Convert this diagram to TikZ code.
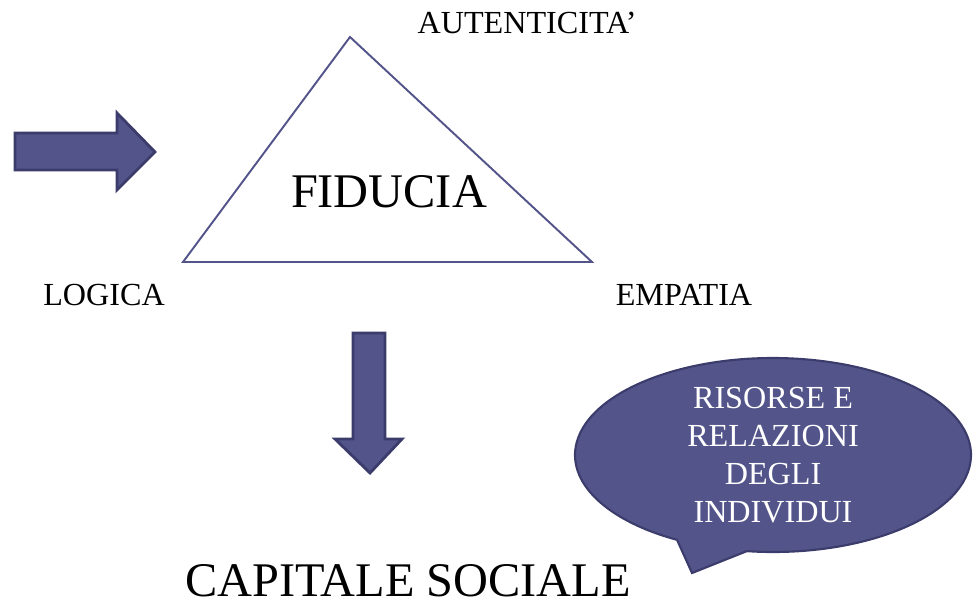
\documentclass[tikz,border=0pt]{standalone}
\usepackage{fontspec}
\setmainfont{Liberation Serif}
\usetikzlibrary{calc}
\definecolor{arrowfill}{HTML}{53548A}
\definecolor{arrowline}{HTML}{3B3C6B}
\tikzset{
  bigarrow/.style={fill=arrowfill, draw=arrowline, line width=1.6pt, line join=miter},
  corner/.style={font=\fontsize{18.3}{20}\selectfont},
  bigtext/.style={font=\fontsize{27.5}{32}\selectfont}
}
\begin{document}
\begin{tikzpicture}[x=0.02cm, y=-0.02cm]
        \useasboundingbox (0,0) rectangle (979,608);

        % Triangle of trust
        \coordinate (top) at (350,37);
        \coordinate (left) at (183,262);
        \coordinate (right) at (592,262);
        \draw[arrowfill, line width=1.1pt] (top) -- (left) -- (right) -- cycle;
        \node[bigtext, anchor=base] (fiducia) at (389,207) {FIDUCIA};

        % Corner labels
        \node[corner, anchor=base] (autenticita) at (527,34) {AUTENTICITA'};
        \node[corner, anchor=base] (logica) at (104,305) {LOGICA};
        \node[corner, anchor=base] (empatia) at (684,305) {EMPATIA};

        % Block arrows
        \draw[bigarrow] (15,133) -- (117,133) -- (117,113) -- (155,152) -- (117,190) -- (117,170) -- (15,170) -- cycle;
        \draw[bigarrow] (353,333) -- (385,333) -- (385,439) -- (402,439) -- (370,473) -- (335,439) -- (353,439) -- cycle;

        % Result
        \node[bigtext, anchor=base, inner sep=0pt] (capitale) at (408,596) {CAPITALE SOCIALE};

        % Speech bubble
        \coordinate (bubble) at (773,455);
        \draw[bigarrow, line width=1.2pt] ($(bubble)+(119:198 and 97)$) -- (692,573) -- ($(bubble)+(97.6:198 and 97)$)
          arc[start angle=97.6, end angle=-241, x radius=198, y radius=97] -- cycle;
        \node[text=white, align=center, font=\fontsize{18.3}{21.5}\selectfont] (risorse) at (bubble)
          {RISORSE E\\RELAZIONI\\DEGLI\\INDIVIDUI};
\end{tikzpicture}
\end{document}
